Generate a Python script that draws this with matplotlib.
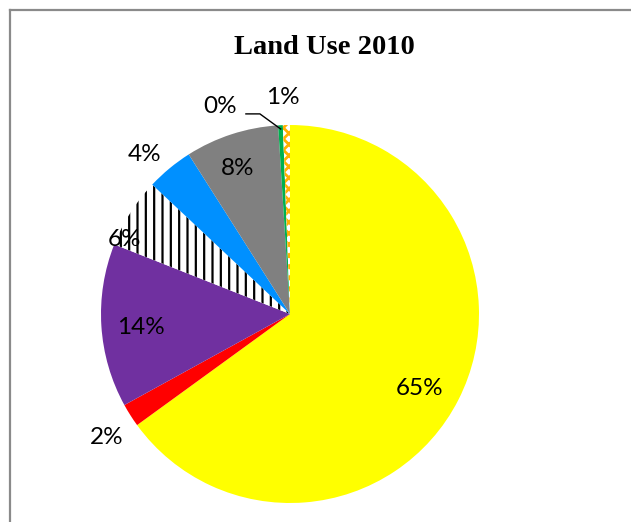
import numpy as np
import matplotlib
matplotlib.use("Agg")
import matplotlib.pyplot as plt
from matplotlib.lines import Line2D

# land use shares, clockwise from 12 o'clock
shares = [65, 2, 14, 6, 4, 8, 0.4, 0.6]
face_colors = ["#FFFF00", "#FF0000", "#7030A0", "#FFFFFF", "#0090FF", "#808080", "#00B050", "#FFFFFF"]
hatches = [None, None, None, "||", None, None, None, "xxx"]
hatch_colors = [None, None, None, "black", None, None, None, "#FFB000"]
hatch_widths = [None, None, None, 1.6, None, None, None, 2.0]

# where each percentage label sits: radius (pie = 1) and angle nudge in degrees
label_radius = [0.79, 1.17, 0.79, 0.96, 1.14, 0.815, 1.16, 1.144]
label_nudge = [3, -1.7, -1.4, -8, -2.8, -1.7, -15.7, -0.8]

plt.rcParams["hatch.linewidth"] = 1.6

fig = plt.figure(figsize=(6.31, 5.22), dpi=100)
W, H = 631, 522
cx, cy, R = 290, 314, 189
ax = fig.add_axes([(cx - R) / W, (H - cy - R) / H, 2 * R / W, 2 * R / H])

wedges, _ = ax.pie(shares, startangle=90, counterclock=False, radius=1,
                   colors=face_colors, wedgeprops=dict(linewidth=0))
for w, h, hc, hw in zip(wedges, hatches, hatch_colors, hatch_widths):
    if h:
        w.set_hatch(h)
        w.set_edgecolor(hc)
        w.set_linewidth(0)
        if hasattr(w, "set_hatch_linewidth"):
            w.set_hatch_linewidth(hw)
ax.set_xlim(-1, 1)
ax.set_ylim(-1, 1)
ax.set_aspect("auto")
ax.axis("off")

# labels from the cumulative clockwise angle of each slice
total = sum(shares)
edges = np.cumsum([0] + shares) / total * 360
mids = (edges[:-1] + edges[1:]) / 2
for i, v in enumerate(shares):
    ang = np.deg2rad(mids[i] + label_nudge[i])
    r = label_radius[i]
    x, y = r * np.sin(ang), r * np.cos(ang)
    ax.text(x, y, f"{v / total * 100:.0f}%", ha="center", va="center",
            fontsize=17.5, family="Lato", color="black", clip_on=False)

# leader line for the thin green slice
ang = np.deg2rad(mids[6])
tip = np.array([0.98 * np.sin(ang), 0.98 * np.cos(ang)])
knee = tip + np.array([-0.11, 0.08])
start = knee + np.array([-0.074, 0])
ax.plot([start[0], knee[0], tip[0]], [start[1], knee[1], tip[1]],
        color="black", lw=1, clip_on=False)

fig.text(324 / W, 1 - 48 / H, "Land Use 2010", ha="center", va="center",
         fontsize=20.5, fontweight="bold", family="Liberation Serif")

# chart area border (top and left edges visible)
fig.add_artist(Line2D([10 / W, 1], [1 - 10 / H, 1 - 10 / H], color="#8a8a8a", lw=1.6))
fig.add_artist(Line2D([10 / W, 10 / W], [0, 1 - 10 / H], color="#8a8a8a", lw=1.6))

fig.savefig("out.png", dpi=100)
